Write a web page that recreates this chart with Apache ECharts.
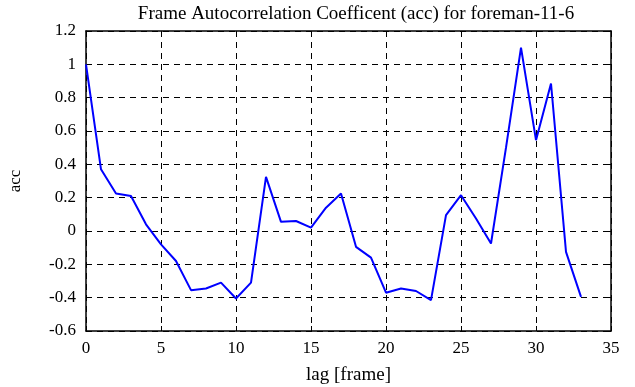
<!DOCTYPE html>
<html>
<head>
<meta charset="utf-8">
<script src="https://cdn.jsdelivr.net/npm/echarts@6/dist/echarts.min.js"></script>
<style>
  html, body { margin: 0; padding: 0; background: #fff; }
  #chart { width: 635px; height: 387px; }
</style>
</head>
<body>
<div id="chart"></div>
<script>
// lag values (frames) and the autocorrelation
const lags = [0, 1, 2, 3, 4, 5, 6, 7, 8, 9, 10, 11, 12, 13, 14, 15, 16,
  17, 18, 19, 20, 21, 22, 23, 24, 25, 26, 27, 28, 29, 30, 31, 32, 33]
const accValues = [1.0, 0.37, 0.225, 0.21, 0.04, -0.08, -0.18, -0.355, -0.345, -0.31,
  -0.405, -0.31, 0.325, 0.055, 0.06, 0.02, 0.14, 0.225, -0.095, -0.16,
  -0.37, -0.345, -0.36, -0.415, 0.095, 0.215, 0.075, -0.075, 0.5, 1.1,
  0.545, 0.885, -0.125, -0.395]

const font = 'Liberation Serif, Times New Roman, serif'
const chart = echarts.init(document.getElementById('chart'))

const axisCommon = {
  axisLine: { show: true, onZero: false, lineStyle: { color: '#000', width: 1.5 } },
  axisTick: { show: true, inside: true, length: 5, lineStyle: { color: '#000', width: 1 } },
  splitLine: { show: false }
}

chart.setOption({
  animation: false,
  title: {
    text: 'Frame Autocorrelation Coefficent (acc) for foreman-11-6',
    left: 351,
    top: 0,
    textAlign: 'center',
    textStyle: { fontFamily: font, fontSize: 19, fontWeight: 'normal', color: '#000' }
  },
  grid: { left: 86, top: 31, right: 24, bottom: 56, containLabel: false, outerBoundsMode: 'none' },
  xAxis: [
    Object.assign({}, axisCommon, {
      type: 'value', min: 0, max: 35, interval: 5,
      name: 'lag [frame]', nameLocation: 'middle', nameGap: 35,
      nameTextStyle: { fontFamily: font, fontSize: 19, color: '#000' },
      axisLabel: { fontFamily: font, fontSize: 17, color: '#000', margin: 9 },
      splitLine: { show: true, lineStyle: { color: '#000', type: [6, 5], width: 1 } }
    }),
    Object.assign({}, axisCommon, {
      type: 'value', min: 0, max: 35, interval: 5, position: 'top',
      axisLabel: { show: false }
    })
  ],
  yAxis: [
    Object.assign({}, axisCommon, {
      type: 'value', min: -0.6, max: 1.2, interval: 0.2,
      name: 'acc', nameLocation: 'middle', nameGap: 62, nameRotate: 90,
      nameTextStyle: { fontFamily: font, fontSize: 17, color: '#000' },
      axisLabel: {
        fontFamily: font, fontSize: 17, color: '#000', margin: 10,
        formatter: v => String(Math.round(v * 10) / 10)
      },
      splitLine: { show: true, lineStyle: { color: '#000', type: [6, 5], width: 1 } }
    }),
    Object.assign({}, axisCommon, {
      type: 'value', min: -0.6, max: 1.2, interval: 0.2, position: 'right',
      axisLabel: { show: false }
    })
  ],
  series: [{
    type: 'line',
    data: lags.map((x, i) => [x, accValues[i]]),
    showSymbol: false,
    lineStyle: { color: '#0000ff', width: 2 },
    itemStyle: { color: '#0000ff' }
  }]
})
</script>
</body>
</html>
